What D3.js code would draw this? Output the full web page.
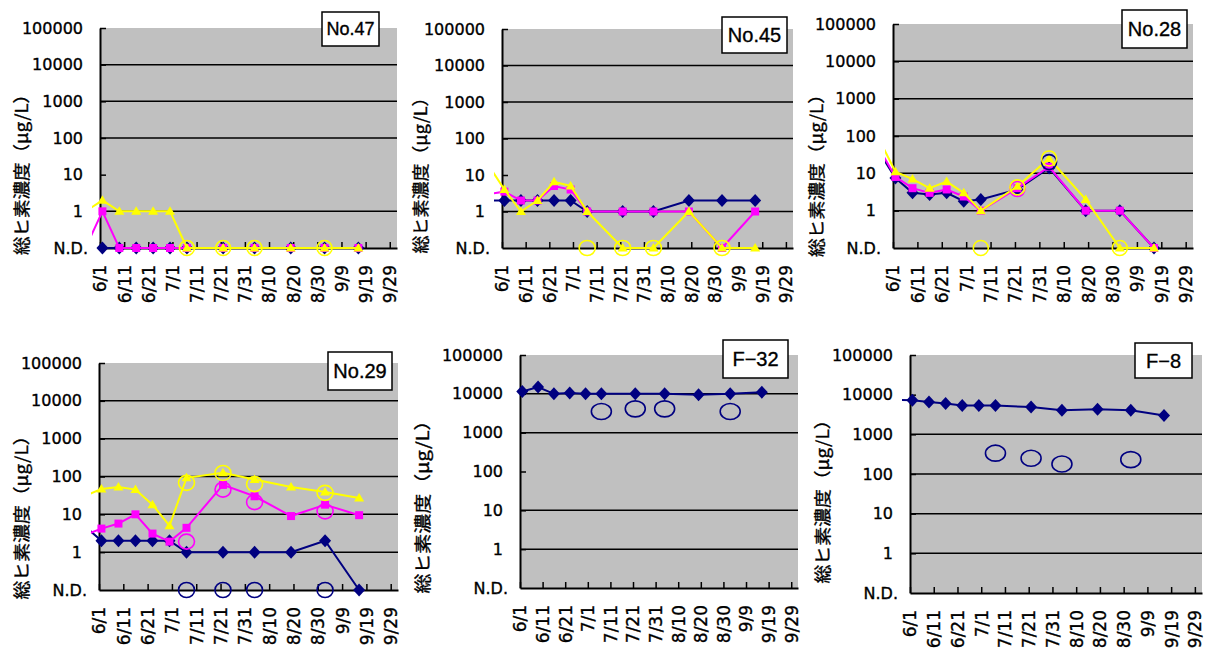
<!DOCTYPE html>
<html>
<head>
<meta charset="utf-8">
<script src="https://cdn.jsdelivr.net/npm/d3@7"></script>
<style>
  body { margin: 0; background: #fff; }
  text { font-family: "DejaVu Sans", sans-serif; fill: #000; stroke: #000; stroke-width: 0.35px; }
</style>
</head>
<body>
<svg id="chart" width="1208" height="653"></svg>
<script>
const ND = 0; // N.D. (not detected), drawn on the bottom axis

const sampleDates = ["2010/6/2", "2010/6/9", "2010/6/16", "2010/6/23", "2010/6/30",
  "2010/7/7", "2010/7/22", "2010/8/4", "2010/8/19", "2010/9/2", "2010/9/16"];
const priorDate = "2010/5/26";
const circleDates = ["2010/7/7", "2010/7/22", "2010/8/4", "2010/9/2"];

const tickDates = ["2010/6/1", "2010/6/11", "2010/6/21", "2010/7/1", "2010/7/11", "2010/7/21",
  "2010/7/31", "2010/8/10", "2010/8/20", "2010/8/30", "2010/9/9", "2010/9/19", "2010/9/29"];
const tickLabels = ["6/1", "6/11", "6/21", "7/1", "7/11", "7/21", "7/31", "8/10", "8/20",
  "8/30", "9/9", "9/19", "9/29"];
const yTickValues = [1, 10, 100, 1000, 10000, 100000];
const yTickLabels = ["1", "10", "100", "1000", "10000", "100000"];

const stations = ["No.47", "No.45", "No.28", "No.29", "F\u221232", "F\u22128"];
const yTitle = "総ヒ素濃度（μg/L）";

// one row per station, values at sampleDates
const navySeries = [
  [ND, ND, ND, ND, ND, ND, ND, ND, ND, ND, ND],
  [2, 2, 2, 2, 2, 1, 1, 1, 2, 2, 2],
  [7.5, 3, 2.7, 3, 1.8, 2, 3.7, 14, 1, 1, ND],
  [2, 2, 2, 2, 2, 1, 1, 1, 1, 2, ND],
  [11500, 15000, 10000, 10500, 10000, 10000, 10000, 10000, 9500, 10000, 11000],
  [7200, 6500, 6000, 5300, 5300, 5300, 4900, 4050, 4300, 4050, 3000]
];
const magentaSeries = [
  [1, ND, ND, ND, ND, ND, ND, ND, ND, ND, ND],
  [3.5, 2, 2, 5, 4, 1, 1, 1, 1, ND, 1],
  [8, 4, 3, 3.7, 2.4, 1, 4, 15, 1, 1, ND],
  [4.2, 5.7, 10, 3.1, 1.9, 4.4, 60, 30, 9, 18, 9.5],
  null,
  null
];
const yellowSeries = [
  [2, 1, 1, 1, 1, ND, ND, ND, ND, ND, ND],
  [4, 1, 2, 6.5, 5, 1, ND, ND, 1, ND, ND],
  [11, 7, 4, 6, 3, 1, 4.5, 25, 2, ND, ND],
  [47, 53, 45, 18, 5, 92, 125, 83, 53, 39, 27],
  null,
  null
];
// value at priorDate (only the stub of line shows left of the axis)
const navyPrior = [null, 2, 40, 5, null, 7500];
const magentaPrior = [ND, 3, 50, 2.8, null, null];
const yellowPrior = [1, 20, 90, 30, null, null];

// open circles, values at circleDates
const navyCircles = [null, null, [null, null, 20, null], [ND, ND, ND, ND],
  [3500, 4100, 4100, 3500], [335, 250, 178, 230]];
const magentaCircles = [null, null, [null, 3.8, null, null], [1.9, 45, 21, 12], null, null];
const yellowCircles = [[ND, ND, ND, ND], [ND, ND, ND, ND], [ND, 4.2, 25, ND], [68, 124, 63, 37], null, null];

// panel geometry
const layout = [
  { left: 100, right: 397, top: 28, bottom: 248, box: [322, 12, 57, 34], boxFont: 18, tx: 22, ty: 170, tlen: 170, skip: [10], rx: 7.5, ry: 7.5 },
  { left: 502, right: 793, top: 29, bottom: 248, box: [722, 17, 65, 36], boxFont: 20, tx: 421, ty: 171, tlen: 165, skip: [10], rx: 8, ry: 7.5 },
  { left: 893, right: 1193, top: 24, bottom: 248, box: [1122, 10, 65, 38], boxFont: 20, tx: 817, ty: 171, tlen: 172, skip: [], rx: 7.5, ry: 7.5 },
  { left: 99, right: 398, top: 363, bottom: 590, box: [328, 352, 64, 38], boxFont: 20, tx: 22, ty: 513, tlen: 173, skip: [], rx: 8, ry: 7.5 },
  { left: 520, right: 798, top: 355, bottom: 588, box: [723, 340, 65, 38], boxFont: 20, tx: 423, ty: 502, tlen: 183, skip: [100], rx: 10, ry: 8 },
  { left: 910, right: 1202, top: 355, bottom: 593, box: [1135, 343, 57, 35], boxFont: 20, tx: 823, ty: 497, tlen: 173, skip: [10000], rx: 10, ry: 8 }
];

const parse = d3.utcParse("%Y/%m/%d");
const xStart = parse("2010/6/1"), xEnd = parse("2010/10/2");
const svg = d3.select("#chart");

const colors = { navy: "#000080", magenta: "#ff00ff", yellow: "#ffff00" };
const diamond = "M0,-6.5L6,0L0,6.5L-6,0Z";
const square = "M-4,-4H4V4H-4Z";
const triangle = "M0,-5L5,3.5H-5Z";

layout.forEach((p, i) => {
  const x = d3.scaleUtc().domain([xStart, xEnd]).range([p.left, p.right]);
  const y = d3.scaleLog().domain([0.1, 100000]).range([p.bottom, p.top]);
  const yv = (v) => (v === ND ? p.bottom : y(v));
  const g = svg.append("g");

  // plot area
  g.append("rect")
    .attr("x", p.left).attr("y", p.top)
    .attr("width", p.right - p.left).attr("height", p.bottom - p.top)
    .attr("fill", "#c0c0c0");

  // gridlines
  g.selectAll(".grid")
    .data(yTickValues.filter((v) => v < 100000 && !p.skip.includes(v)))
    .join("line")
    .attr("x1", p.left).attr("x2", p.right)
    .attr("y1", (d) => y(d)).attr("y2", (d) => y(d))
    .attr("stroke", "#000").attr("stroke-width", 1.5);

  // Y axis
  const yAxis = g.append("g")
    .attr("transform", `translate(${p.left},0)`)
    .call(d3.axisLeft(y).tickValues(yTickValues).tickSizeInner(-6).tickSizeOuter(0)
      .tickPadding(17).tickFormat((d, k) => yTickLabels[k]));
  yAxis.select(".domain").attr("stroke", "#000").attr("stroke-width", 2);
  yAxis.selectAll(".tick line").attr("stroke", "#000").attr("stroke-width", 1.5);
  yAxis.selectAll("text").attr("font-family", null).style("font-size", "16px");
  g.append("text")
    .attr("x", p.left - 12).attr("y", p.bottom).attr("dy", "0.35em")
    .attr("text-anchor", "end").style("font-size", "16px")
    .text("N.D.");

  // X axis
  const xAxis = g.append("g")
    .attr("transform", `translate(0,${p.bottom})`)
    .call(d3.axisBottom(x).tickValues(tickDates.map(parse)).tickSizeInner(-6).tickSizeOuter(0)
      .tickFormat((d, k) => tickLabels[k]));
  xAxis.select(".domain").attr("stroke", "#000").attr("stroke-width", 2);
  xAxis.selectAll(".tick line").attr("stroke", "#000").attr("stroke-width", 1.5);
  xAxis.selectAll("text")
    .attr("font-family", null)
    .style("font-size", "17px")
    .attr("transform", "rotate(-90)")
    .attr("x", -17).attr("y", 0).attr("dy", "0.35em")
    .attr("text-anchor", "end");

  // Y title
  g.append("text")
    .attr("transform", `translate(${p.tx},${p.ty}) rotate(-90)`)
    .attr("dy", "0.38em")
    .attr("text-anchor", "middle")
    .attr("textLength", p.tlen).attr("lengthAdjust", "spacingAndGlyphs")
    .style("font-family", '"Noto Sans CJK JP", sans-serif')
    .style("font-size", "17px")
    .text(yTitle);

  // series
  const clipId = `clip${i}`;
  svg.append("clipPath").attr("id", clipId)
    .append("rect")
    .attr("x", p.left - 8).attr("y", p.top - 10)
    .attr("width", p.right - p.left + 8).attr("height", p.bottom - p.top + 20);

  const line = d3.line().x((d) => x(d.date)).y((d) => yv(d.v));

  [
    { vals: navySeries[i], prior: navyPrior[i], color: colors.navy, shape: diamond },
    { vals: magentaSeries[i], prior: magentaPrior[i], color: colors.magenta, shape: square },
    { vals: yellowSeries[i], prior: yellowPrior[i], color: colors.yellow, shape: triangle }
  ].forEach((s) => {
    if (!s.vals) return;
    const pts = s.vals.map((v, k) => ({ date: parse(sampleDates[k]), v }));
    const linePts = s.prior == null ? pts : [{ date: parse(priorDate), v: s.prior }, ...pts];
    g.append("path")
      .attr("clip-path", `url(#${clipId})`)
      .attr("d", line(linePts))
      .attr("fill", "none")
      .attr("stroke", s.color).attr("stroke-width", 2);
    g.selectAll(null)
      .data(pts)
      .join("path")
      .attr("d", s.shape)
      .attr("transform", (d) => `translate(${x(d.date)},${yv(d.v)})`)
      .attr("fill", s.color);
  });

  // open circles
  [
    { vals: navyCircles[i], color: colors.navy },
    { vals: magentaCircles[i], color: colors.magenta },
    { vals: yellowCircles[i], color: colors.yellow }
  ].forEach((s) => {
    if (!s.vals) return;
    const pts = s.vals.map((v, k) => ({ date: parse(circleDates[k]), v })).filter((d) => d.v != null);
    g.selectAll(null)
      .data(pts)
      .join("ellipse")
      .attr("cx", (d) => x(d.date)).attr("cy", (d) => yv(d.v))
      .attr("rx", p.rx).attr("ry", p.ry)
      .attr("fill", "none")
      .attr("stroke", s.color).attr("stroke-width", 1.6);
  });

  // station box
  const [bx, by, bw, bh] = p.box;
  g.append("rect")
    .attr("x", bx).attr("y", by).attr("width", bw).attr("height", bh)
    .attr("fill", "#fff").attr("stroke", "#000").attr("stroke-width", 1.5);
  g.append("text")
    .attr("x", bx + bw / 2).attr("y", by + bh / 2).attr("dy", "0.36em")
    .attr("text-anchor", "middle")
    .style("font-family", '"Liberation Sans", Arial, sans-serif')
    .style("font-size", p.boxFont + "px")
    .text(stations[i]);
});
</script>
</body>
</html>
